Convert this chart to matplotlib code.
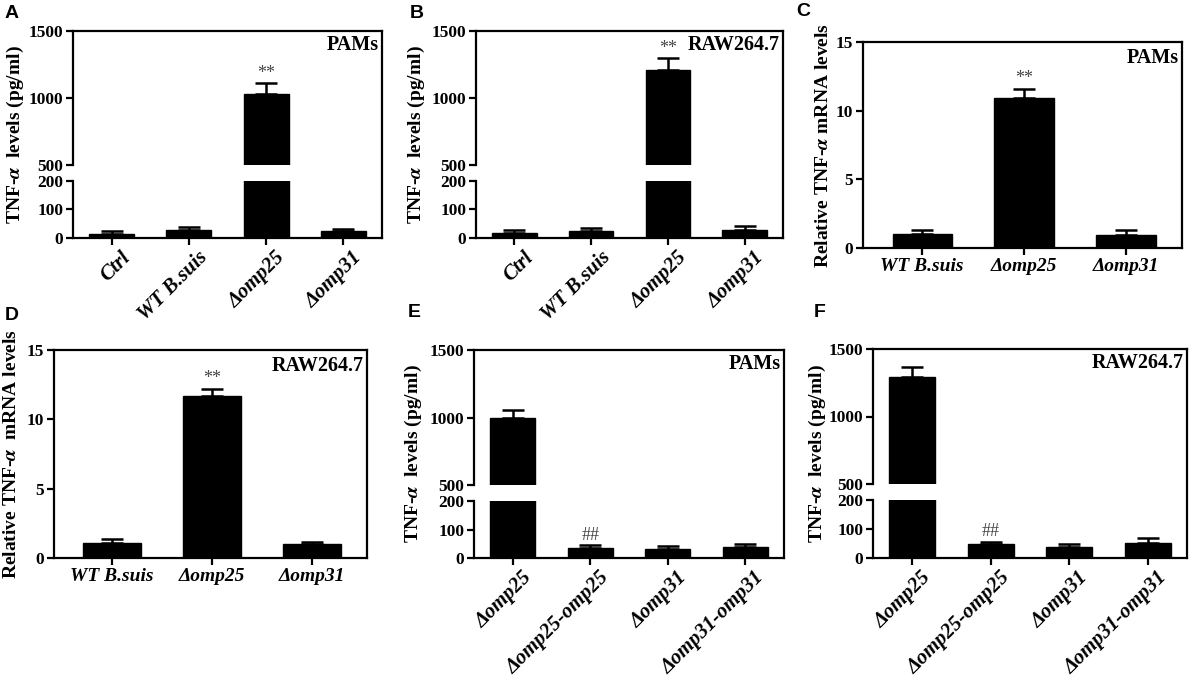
import numpy as np
import matplotlib.pyplot as plt
import matplotlib.transforms as mtransforms

plt.rcParams['font.family'] = ['Liberation Serif', 'DejaVu Serif']
plt.rcParams['font.weight'] = 'bold'
plt.rcParams['mathtext.fontset'] = 'stix'

W, H = 1192, 680

# Panel A / B: TNF-a protein (pg/ml)
grp_ab = ['Ctrl', 'WT B.suis', 'Δomp25', 'Δomp31']
a_mean = [15, 28, 1030, 25]
a_err = [8, 12, 80, 8]
b_mean = [19, 25, 1207, 28]
b_err = [9, 11, 88, 14]

# Panel C / D: relative mRNA
grp_cd = ['WT B.suis', 'Δomp25', 'Δomp31']
c_mean = [1.02, 10.92, 0.97]
c_err = [0.27, 0.68, 0.32]
d_mean = [1.08, 11.69, 0.99]
d_err = [0.27, 0.53, 0.17]

# Panel E / F: complemented strains
grp_ef = ['Δomp25', 'Δomp25-omp25', 'Δomp31', 'Δomp31-omp31']
e_mean = [1000, 36, 30, 39]
e_err = [57, 10, 13, 11]
f_mean = [1290, 47, 38, 52]
f_err = [77, 9, 10, 16]

fig = plt.figure(figsize=(W / 100, H / 100), dpi=100)


def rect(l, r, t, b):
    return [l / W, 1 - b / H, (r - l) / W, (b - t) / H]


def style(ax):
    for s in ax.spines.values():
        s.set_linewidth(1.6)
    ax.tick_params(width=1.6, length=5, labelsize=12.5, direction='out', pad=2)
    for lab in ax.get_yticklabels():
        lab.set_fontweight('bold')


def draw_bars(ax, mean, err, width):
    x = np.arange(len(mean))
    ax.bar(x, mean, width=width, color='black', edgecolor='black')
    ax.errorbar(x, mean, yerr=[np.zeros(len(err)), err], fmt='none',
                ecolor='black', elinewidth=1.8, capsize=8, capthick=1.8)
    return x


def mark_text(ax, x, y, s):
    ax.annotate(s, (x, y), xytext=(0, 1), textcoords='offset points',
                ha='center', va='bottom', fontsize=13, color='#444444',
                fontweight='normal')


def broken_panel(l, r, t, m1, m2, b, mean, err, labels, cell, ylabel, ylx, mark):
    ax_top = fig.add_axes(rect(l, r, t, m1))
    ax_bot = fig.add_axes(rect(l, r, m2, b))
    for ax in (ax_top, ax_bot):
        x = draw_bars(ax, mean, err, 0.58)
        ax.set_xlim(-0.5, len(mean) - 0.5)
        style(ax)
    ax_top.set_ylim(500, 1500)
    ax_top.set_yticks([500, 1000, 1500])
    ax_top.spines['bottom'].set_visible(False)
    ax_top.tick_params(axis='x', bottom=False, labelbottom=False)
    ax_top.spines['right'].set_visible(False)
    ax_bot.set_ylim(0, 200)
    ax_bot.set_yticks([0, 100, 200])
    ax_bot.spines['top'].set_visible(False)
    ax_bot.spines['right'].set_visible(False)
    ax_bot.set_xticks(x)
    ax_bot.set_xticklabels(labels, rotation=45, ha='right',
                           rotation_mode='anchor', style='italic',
                           fontsize=15, fontweight='bold')
    shift = mtransforms.ScaledTranslation(9 / 100, 0, fig.dpi_scale_trans)
    for lab in ax_bot.get_xticklabels():
        lab.set_transform(lab.get_transform() + shift)
    # continuous right spine
    ax_r = fig.add_axes(rect(l, r, t, b), facecolor='none')
    ax_r.set_xticks([])
    ax_r.set_yticks([])
    for k in ('left', 'top', 'bottom'):
        ax_r.spines[k].set_visible(False)
    ax_r.spines['right'].set_linewidth(1.6)
    ax_top.text(0.99, 0.97, cell, transform=ax_top.transAxes, ha='right',
                va='top', fontsize=14.5, fontweight='bold')
    for i, s in mark.items():
        ax = ax_top if mean[i] + err[i] > 500 else ax_bot
        mark_text(ax, x[i], mean[i] + err[i], s)
    fig.text(ylx / W, 1 - (t + b) / 2 / H, ylabel, rotation=90,
             ha='center', va='center', fontsize=14, fontweight='bold')


def simple_panel(l, r, t, b, mean, err, labels, cell, ylabel, ylx, mark):
    ax = fig.add_axes(rect(l, r, t, b))
    x = draw_bars(ax, mean, err, 0.58)
    ax.set_xlim(-0.58, len(mean) - 0.45)
    ax.set_ylim(0, 15)
    ax.set_yticks([0, 5, 10, 15])
    style(ax)
    ax.set_xticks(x)
    ax.set_xticklabels(labels, style='italic', fontsize=14, fontweight='bold')
    ax.text(0.99, 0.97, cell, transform=ax.transAxes, ha='right',
            va='top', fontsize=14.5, fontweight='bold')
    for i, s in mark.items():
        mark_text(ax, x[i], mean[i] + err[i], s)
    fig.text(ylx / W, 1 - (t + b) / 2 / H, ylabel, rotation=90,
             ha='center', va='center', fontsize=14, fontweight='bold')


ylab_prot = r'TNF-$\alpha$  levels (pg/ml)'
broken_panel(73, 382, 31, 165, 181, 238, a_mean, a_err, grp_ab, 'PAMs',
             ylab_prot, 15, {2: '**'})
broken_panel(476, 783, 31, 165, 181, 238, b_mean, b_err, grp_ab, 'RAW264.7',
             ylab_prot, 416, {2: '**'})
simple_panel(863, 1182, 42, 248, c_mean, c_err, grp_cd, 'PAMs',
             r'Relative TNF-$\alpha$ mRNA levels', 824, {1: '**'})
simple_panel(54, 367, 350, 558, d_mean, d_err, grp_cd, 'RAW264.7',
             r'Relative TNF-$\alpha$  mRNA levels', 12, {1: '**'})
broken_panel(474, 784, 350, 485, 501, 558, e_mean, e_err, grp_ef, 'PAMs',
             ylab_prot, 413, {1: '##'})
broken_panel(873, 1187, 349, 484, 500, 558, f_mean, f_err, grp_ef, 'RAW264.7',
             ylab_prot, 817, {1: '##'})

letters = {'A': (5, 14), 'B': (410, 14), 'C': (796, 12),
           'D': (5, 315), 'E': (408, 313), 'F': (814, 313)}
for k, (px, py) in letters.items():
    fig.text(px / W, 1 - py / H, k, family='Liberation Sans',
             fontsize=14, fontweight='bold', ha='left', va='center')

fig.savefig('out.png', dpi=100)
